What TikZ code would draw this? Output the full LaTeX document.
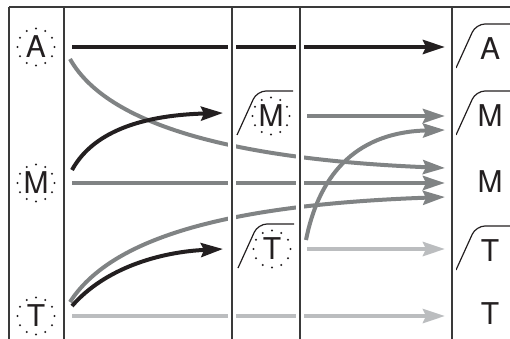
\documentclass[tikz,border=0pt]{standalone}
\usepackage{fontspec}
\setmainfont{TeX Gyre Heros}
\usepackage{tikz}
\usetikzlibrary{calc,arrows.meta}
\definecolor{inkc}{HTML}{231F20}
\definecolor{midc}{HTML}{808384}
\definecolor{lightc}{HTML}{BBBDBF}
\definecolor{rulec}{HTML}{3A3A3A}
\tikzset{
  lbl/.style={inner sep=0pt,text=inkc,font=\fontsize{30}{32}\selectfont},
  blk/.style={-{Stealth[length=22pt,width=14pt,inset=3pt]},line width=4pt,inkc},
  gry/.style={-{Stealth[length=22pt,width=14pt,inset=3pt]},line width=4pt,midc},
  lgt/.style={-{Stealth[length=22pt,width=14pt,inset=3pt]},line width=4pt,lightc},
  rise/.style={inkc,line width=1.2pt,rounded corners=9pt},
  halo/.style={white,line width=8pt},
  rule/.style={rulec,line width=1.1pt}
}

\begin{document}
\begin{tikzpicture}[x=1pt,y=-1pt]
\useasboundingbox (0,0) rectangle (510,339);
% left column
\node[lbl] (lA) at (36,47) {A};
\node[lbl] (lM) at (36,183) {M};
\node[lbl] (lT) at (36,316) {T};
% middle column
\node[lbl] (mM) at (271,116) {M};
\node[lbl] (mT) at (272,249) {T};
% right column
\node[lbl] (rA) at (490,49) {A};
\node[lbl] (rM) at (490,116) {M};
\node[lbl] (rMb) at (490,182) {M};
\node[lbl] (rT) at (490,251) {T};
\node[lbl] (rTb) at (490,314) {T};
% dotted rings
\foreach \n in {lA,lM,lT,mM,mT}
  \foreach \a in {0,30,...,330}
    \fill[inkc] (\n.center) ++(\a:18.5) circle (1.2);
% rising marks
\foreach \n in {mM,mT,rA,rM,rT}
  \draw[rise] ([shift={(-34,19)}]\n.center) -- ++(20,-44) -- ++(36,0);
% arrow ends
\coordinate (eA) at (445,47);
\coordinate (eM1) at (445,116);
\coordinate (eTM) at (445,130);
\coordinate (eAM) at (445,168);
\coordinate (eM) at (445,183);
\coordinate (eTL) at (445,197);
\coordinate (eT1) at (445,249);
\coordinate (eT) at (445,316);
% flows
\draw[blk] ([xshift=36]lA.center) -- (eA);
\draw[gry] ([shift={(34,12)}]lA.center) .. controls (110,130) and (250,160) .. (eAM);
\draw[blk] ([shift={(36,-13)}]lM.center) .. controls (95,128) and (150,115) .. ([shift={(-48,-3)}]mM.center);
\draw[gry] ([xshift=36]lM.center) -- (eM);
\draw[gry] ([shift={(34,-14)}]lT.center) .. controls (110,240) and (220,205) .. (eTL);
\draw[blk] ([shift={(36,-10)}]lT.center) .. controls (105,268) and (160,252) .. ([xshift=-49]mT.center);
\draw[lgt] ([xshift=36]lT.center) -- (eT);
\draw[gry] ([xshift=36]mM.center) -- (eM1);
\draw[gry] ([shift={(34,-9)}]mT.center) .. controls (320,170) and (360,132) .. (eTM);
\draw[lgt] ([xshift=35]mT.center) -- (eT1);
% frame
\foreach \x in {64,232,300,452}
  \draw[halo] (\x,7) -- (\x,339);
\foreach \x in {9,64,232,300,452}
  \draw[rule] (\x,7) -- (\x,339);
\draw[rule] (9,7) -- (510,7);
\end{tikzpicture}
\end{document}
